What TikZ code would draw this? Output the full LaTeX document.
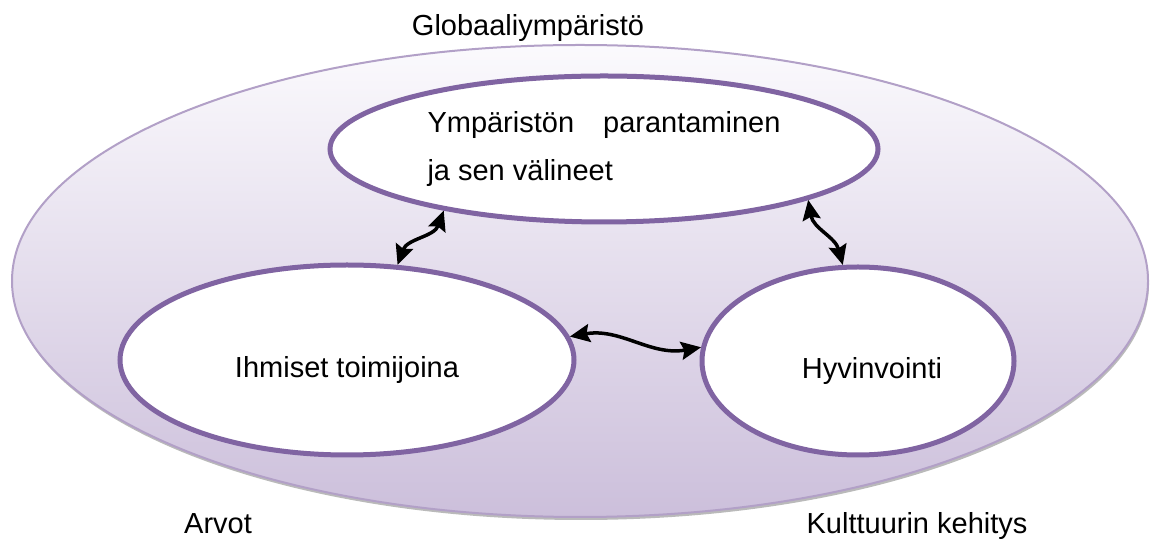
\documentclass[tikz,border=0pt]{standalone}
\usepackage{fontspec}
\setmainfont{Liberation Sans}
\usetikzlibrary{shapes,shadows,arrows.meta,positioning}
\definecolor{ringpurple}{RGB}{128,100,162}
\definecolor{globeedge}{RGB}{178,160,199}
\definecolor{globelow}{RGB}{204,191,219}
\definecolor{globehigh}{RGB}{251,250,253}
\tikzstyle{globe}   = [ellipse, draw=globeedge, line width=2pt, top color=globehigh, bottom color=globelow, inner sep=0pt, drop shadow={shadow xshift=1pt, shadow yshift=-3pt, fill=black!45, opacity=0.6}]
\tikzstyle{bubble}  = [ellipse, draw=ringpurple, line width=5pt, fill=white, inner sep=0pt]
\tikzstyle{caption} = [font=\fontsize{29}{35}\selectfont, inner sep=0pt]
\tikzstyle{link}    = [line width=3.5pt, >={Stealth[length=20pt,width=18pt,inset=3pt]}, <->]

\begin{document}
\begin{tikzpicture}[x=1pt,y=1pt]
        \useasboundingbox (0,0) rectangle (1155,540);

        \node[globe, minimum width=1136pt, minimum height=472pt] (world) at (580,259) {};

        \node[bubble, minimum width=548pt, minimum height=146pt, align=left, font=\fontsize{29}{48}\selectfont] (environment) at (604,391) {Ympäristön\quad parantaminen\\ja sen välineet};
        \node[bubble, minimum width=454pt, minimum height=190pt, label={[caption, yshift=-10pt]center:Ihmiset toimijoina}] (people) at (347,180) {};
        \node[bubble, minimum width=312pt, minimum height=188pt, label={[caption, xshift=14pt, yshift=-10pt]center:Hyvinvointi}] (wellbeing) at (858,179) {};

        \draw[link] (people.62) to[out=70, in=250] (environment.201);
        \draw[link] (environment.-14) to[out=-80, in=105] (wellbeing.99);
        \draw[link] (people.6) to[out=10, in=190] (wellbeing.175);

        \node[caption, anchor=base] (globaltext) at (528,504) {Globaaliympäristö};
        \node[caption, anchor=base] (valuestext) at (218,6) {Arvot};
        \node[caption, anchor=base] (culturetext) at (917,6) {Kulttuurin kehitys};
    \end{tikzpicture}
\end{document}
